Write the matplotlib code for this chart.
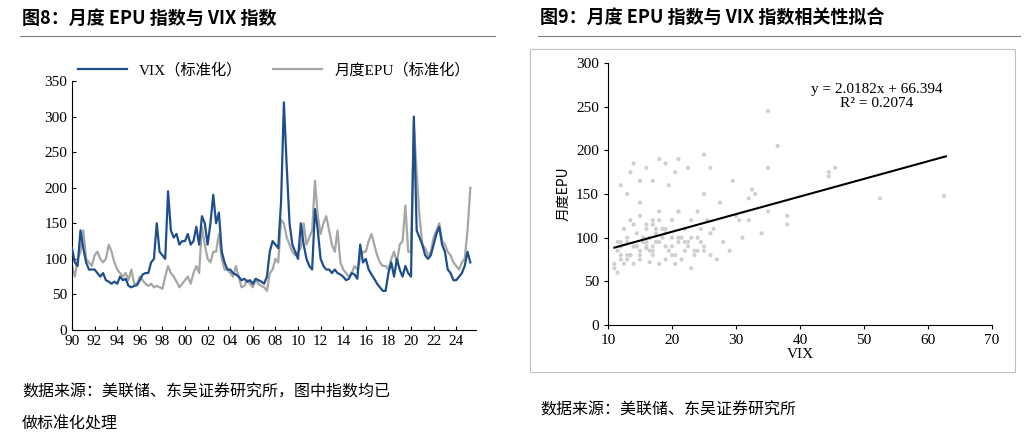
import numpy as np
import matplotlib
matplotlib.use("Agg")
import matplotlib.pyplot as plt
from matplotlib.lines import Line2D

plt.rcParams['font.family'] = ['Liberation Serif', 'Noto Sans CJK SC']

vix = [115,95,90,140, 115,95,85,85, 85,80,75,80, 70,68,65,68, 65,75,70,72,
       62,60,62,63, 70,78,80,80, 95,100,150,110, 105,100,195,140, 130,135,120,125,
       125,135,120,125, 145,120,160,150, 120,150,190,150, 165,110,95,85, 85,80,78,75,
       70,72,68,70, 65,72,70,68, 65,75,110,125, 120,115,180,320, 230,150,120,110,
       100,150,120,100, 90,85,170,140, 100,90,85,85, 80,85,80,78, 75,70,72,80,
       78,72,120,95, 100,85,78,72, 65,60,55,55, 80,95,75,100, 85,75,90,80,
       75,300,140,130, 120,105,100,105, 120,135,145,120, 110,85,80,70, 70,75,80,90,
       110,95]
epu = [90,75,100,110, 140,100,95,90, 105,110,100,95, 100,120,110,95, 85,80,75,80,
       70,85,65,65, 75,70,65,62, 65,60,62,60, 58,75,90,80, 75,68,60,65,
       70,75,65,80, 90,80,145,120, 100,95,110,110, 135,100,85,85, 80,75,90,75,
       60,62,70,65, 60,70,65,62, 60,55,80,85, 100,95,155,150, 130,120,110,105,
       110,115,150,120, 130,140,210,160, 135,150,160,140, 120,110,140,95, 85,80,75,80,
       90,85,100,110, 110,125,135,120, 105,95,90,90, 85,100,110,95, 120,125,175,110,
       110,290,220,160, 120,115,105,110, 130,140,150,125, 120,110,105,95, 90,85,95,100,
       140,200]
xticklabels = ['90','92','94','96','98','00','02','04','06','08','10','12','14','16','18','20','22','24']

sx = [11,11.5,12,12,12.5,13,13,13.5,14,14,14.5,15,15,15.5,16,16,16.5,17,17,17.5,
      18,18,18.5,19,19,19.5,20,20,20.5,21,21,21.5,22,22,22.5,23,23,23.5,24,24,
      24.5,25,25,25.5,26,26.5,27,27.5,28,29,29.5,30,30.5,31,32,32,33,34,35,35,
      36.5,38,38,44.5,44.5,45.5,52.5,62.5,11,11.5,12,12.5,13,13.5,14,14.5,15,15.5,
      16,16.5,17,17.5,18,18.5,19,20,21,22,23,24,25,26,11.5,12.5,13.5,14.5,15.5,16.5,
      17.5,18.5,19.5,20.5,21.5,22.5,23.5,24.5,12,13,14,15,16,17,18,19,20,21,
      15,16,17,17.5,19,20.5,21,22.5,25,26,13.5,14,16,18,32.5,35,12,13,15,17]
sy = [70,60,75,95,110,80,100,120,90,70,105,80,140,95,90,115,100,120,80,95,
      130,70,100,110,75,160,90,120,70,95,130,75,110,85,95,120,65,80,100,130,
      110,150,85,120,105,110,75,140,95,85,165,125,120,100,120,145,150,105,245,180,
      205,115,125,170,175,180,145,148,65,85,90,70,95,80,115,90,75,100,88,72,
      85,105,95,110,90,80,100,95,100,85,90,80,95,110,80,90,100,85,95,110,
      85,80,100,90,85,95,80,75,90,85,110,115,120,105,100,130,125,95,90,110,
      185,175,190,180,195,180,175,185,180,190,155,130,160,150,165,165,62,58]

fig = plt.figure(figsize=(10.29, 4.36), dpi=100)
fig.text(22/1029, 1-18/436, '图8：月度 EPU 指数与 VIX 指数', fontsize=13, fontweight='bold',
         va='center', family='Noto Sans CJK SC')
fig.text(540/1029, 1-18/436, '图9：月度 EPU 指数与 VIX 指数相关性拟合', fontsize=13, fontweight='bold',
         va='center', family='Noto Sans CJK SC')
for x0, x1 in [(20, 495), (538, 1020)]:
    fig.add_artist(Line2D([x0/1029, x1/1029], [1-36/436]*2, color='#7f7f7f', lw=0.8))
fig.text(22/1029, 1-392/436, '数据来源：美联储、东吴证券研究所，图中指数均已', fontsize=11.5,
         va='center', family='Noto Sans CJK SC')
fig.text(22/1029, 1-424/436, '做标准化处理', fontsize=11.5, va='center', family='Noto Sans CJK SC')
fig.text(540/1029, 1-410/436, '数据来源：美联储、东吴证券研究所', fontsize=11.5,
         va='center', family='Noto Sans CJK SC')

# left
ax = fig.add_axes([72/1029, 1-330/436, 404/1029, 249/436])
t = 1990 + np.arange(len(vix)) * 0.25
ax.plot(t, epu, color='#a6a6a6', lw=1.6, label='月度EPU（标准化）', zorder=2)
ax.plot(t, vix, color='#1f4e8c', lw=1.6, label='VIX（标准化）', zorder=3)
ax.set_xlim(1990, 2025.75)
ax.set_ylim(0, 350)
ax.set_yticks(range(0, 351, 50))
ax.set_xticks(np.arange(1990, 2025, 2))
ax.set_xticklabels(xticklabels)
for s in ['top', 'right']:
    ax.spines[s].set_visible(False)
ax.tick_params(labelsize=11, direction='in', length=3)
h, l = ax.get_legend_handles_labels()
ax.legend(h[::-1], l[::-1], loc='lower left', bbox_to_anchor=(0.0, 0.99), ncol=2, frameon=False,
          handlelength=3.2, borderaxespad=0, columnspacing=2,
          prop={'family': ['Liberation Serif', 'Noto Sans CJK SC'], 'size': 11})

# right
fig.add_artist(plt.Rectangle((530/1029, 1-372/436), 485/1029, 323/436, fill=False,
                             edgecolor='#bfbfbf', lw=0.8, transform=fig.transFigure))
ax2 = fig.add_axes([608/1029, 1-325/436, 384/1029, 262/436])
n = min(len(sx), len(sy))
ax2.scatter(sx[:n], sy[:n], s=9, color='#d0d0d0', edgecolors='none')
xx = np.array([11, 62.8])
ax2.plot(xx, 2.0182*xx + 66.394, color='black', lw=1.5)
ax2.text(52, 262, 'y = 2.0182x + 66.394\nR² = 0.2074', ha='center', va='center', fontsize=11,
         linespacing=1.1)
ax2.set_xlim(10, 70)
ax2.set_ylim(0, 300)
ax2.set_xticks(range(10, 71, 10))
ax2.set_yticks(range(0, 301, 50))
for s in ['top', 'right']:
    ax2.spines[s].set_visible(False)
ax2.tick_params(labelsize=11, direction='out', length=3)
ax2.set_xlabel('VIX', fontsize=11, labelpad=1)
ax2.set_ylabel('月度EPU', fontsize=10, family='Noto Sans CJK SC', labelpad=4)

fig.savefig('out.png', dpi=100)
